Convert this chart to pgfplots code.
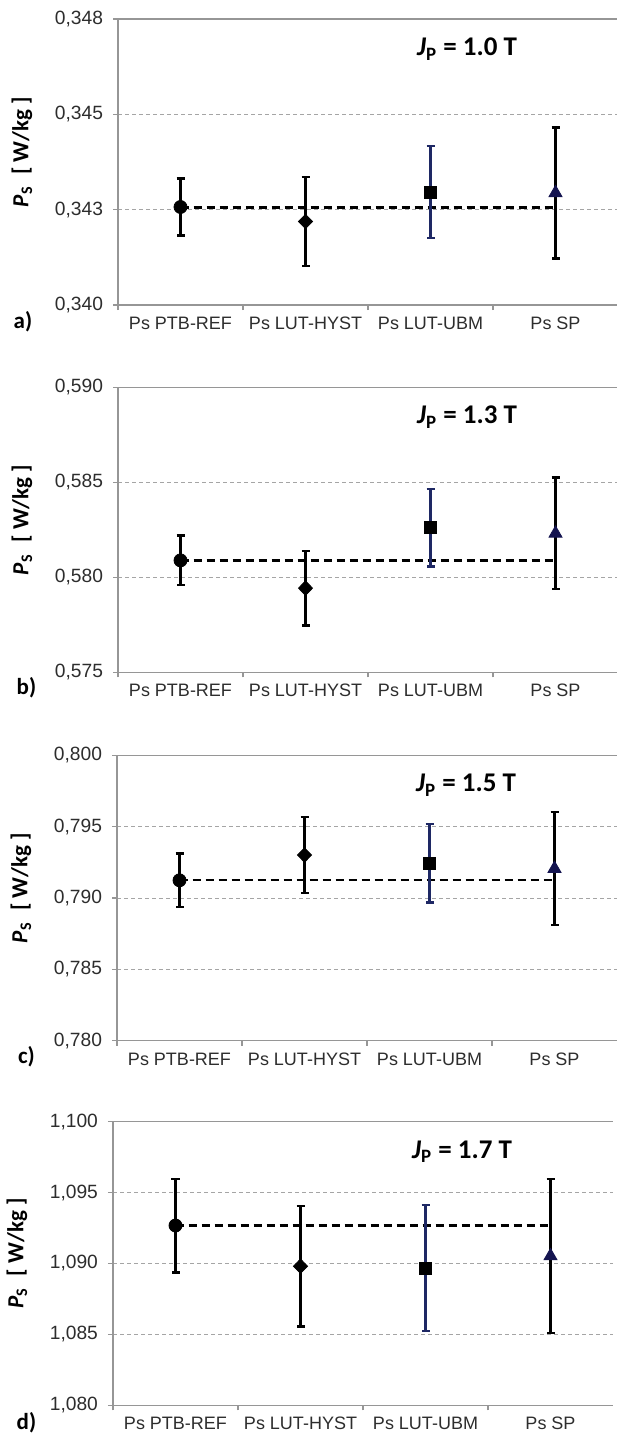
\documentclass[border=0pt]{standalone}
\usepackage{fontspec}
\setmainfont{Liberation Sans}
\newfontfamily\cali{Carlito}
\usepackage{pgfplots}
\pgfplotsset{compat=1.18}
\definecolor{gridc}{RGB}{165,165,165}
\definecolor{axisc}{RGB}{150,150,150}
\definecolor{navy}{RGB}{30,40,100}
\definecolor{navytri}{RGB}{20,20,80}
\definecolor{tickc}{RGB}{45,45,45}
\tikzset{
  ann/.style={font=\cali\bfseries\fontsize{13.5}{15}\selectfont},
  lett/.style={font=\cali\bfseries\fontsize{11.5}{13}\selectfont},
}
\pgfplotsset{
  panel/.style={
    scale only axis, width=250pt,
    xmin=-0.5, xmax=3.5,
    xtick={0,1,2,3},
    xticklabels={Ps PTB-REF, Ps LUT-HYST, Ps LUT-UBM, Ps SP},
    minor xtick={-0.5,0.5,1.5,2.5},
    major x tick style={draw=none},
    minor x tick style={axisc, line width=0.6pt},
    minor tick length=2.5pt,
    major tick length=2.5pt,
    tick align=outside,
    axis x line*=bottom, axis y line*=left,
    axis line style={axisc, line width=0.6pt},
    ytick style={axisc, line width=0.6pt},
    ymajorgrids, grid style={gridc, line width=0.5pt, dash pattern=on 2pt off 1.5pt},
    xticklabel style={font=\fontsize{9}{10}\selectfont, text=tickc},
    yticklabel style={font=\fontsize{9.6}{10}\selectfont, text=tickc},
    yticklabel shift=1.5pt,
    ylabel={\textit{P}\textsubscript{S}\hspace{0.5em}[ W/kg ]},
    ylabel style={at={(axis description cs:-0.192,0.535)}, anchor=center, font=\cali\bfseries\fontsize{11.5}{13}\selectfont},
    clip=false,
  },
  refline/.style={black, line width=1.2pt, dash pattern=on 4pt off 2.5pt},
  eb/.style={error bars/.cd, y dir=both, y explicit, error bar style={line width=1.2pt}, error mark options={rotate=90, mark size=2pt, line width=1.2pt}},
}
\begin{document}
\begin{tikzpicture}
\useasboundingbox (0pt,0pt) rectangle (308pt,-717pt);
% ---------------- a)
\begin{axis}[panel, at={(59pt,-152.5pt)}, anchor=south west, height=143pt,
  ymin=0.340, ymax=0.3475, ytick={0.340,0.3425,0.345,0.3475},
  yticklabels={{0,340},{0,343},{0,345},{0,348}}]
\addplot[refline] coordinates {(0,0.34256) (3,0.34256)};
\addplot[black, only marks, mark=*, mark size=3.25pt, eb] coordinates {(0,0.34257) +- (0,0.00075)};
\addplot[black, only marks, mark=diamond*, mark size=3.6pt, mark options={xscale=1.3}, eb] coordinates {(1,0.34219) +- (0,0.00117)};
\addplot[navy, only marks, mark=square*, mark size=3pt, mark options={fill=black, draw=black}, eb] coordinates {(2,0.34296) +- (0,0.00121)};
\addplot[black, only marks, mark=triangle*, mark size=3.75pt, mark options={fill=navytri, draw=navytri}, eb] coordinates {(3,0.34294) +- (0,0.00172)};
\draw[axisc, line width=0.6pt] (rel axis cs:0,1) -- (rel axis cs:1,1);
\node[ann] at (rel axis cs:0.698,0.895) {\textit{J}\textsubscript{P} = 1.0 T};
\end{axis}
% ---------------- b)
\begin{axis}[panel, at={(59pt,-336.15pt)}, anchor=south west, height=142.5pt,
  ymin=0.575, ymax=0.590, ytick={0.575,0.580,0.585,0.590},
  yticklabels={{0,575},{0,580},{0,585},{0,590}}]
\addplot[refline] coordinates {(0,0.58089) (3,0.58089)};
\addplot[black, only marks, mark=*, mark size=3.25pt, eb] coordinates {(0,0.58089) +- (0,0.0013)};
\addplot[black, only marks, mark=diamond*, mark size=3.6pt, mark options={xscale=1.3}, eb] coordinates {(1,0.57943) +- (0,0.00197)};
\addplot[navy, only marks, mark=square*, mark size=3pt, mark options={fill=black, draw=black}, eb] coordinates {(2,0.58261) +- (0,0.00205)};
\addplot[black, only marks, mark=triangle*, mark size=3.75pt, mark options={fill=navytri, draw=navytri}, eb] coordinates {(3,0.58231) +- (0,0.00294)};
\draw[axisc, line width=0.6pt] (rel axis cs:0,1) -- (rel axis cs:1,1);
\node[ann] at (rel axis cs:0.698,0.895) {\textit{J}\textsubscript{P} = 1.3 T};
\end{axis}
% ---------------- c)
\begin{axis}[panel, at={(58.5pt,-520.35pt)}, anchor=south west, height=142.7pt,
  ymin=0.780, ymax=0.800, ytick={0.780,0.785,0.790,0.795,0.800},
  yticklabels={{0,780},{0,785},{0,790},{0,795},{0,800}}]
\addplot[refline] coordinates {(0,0.79126) (3,0.79126)};
\addplot[black, only marks, mark=*, mark size=3.25pt, eb] coordinates {(0,0.79124) +- (0,0.00189)};
\addplot[black, only marks, mark=diamond*, mark size=3.6pt, mark options={xscale=1.3}, eb] coordinates {(1,0.79301) +- (0,0.00266)};
\addplot[navy, only marks, mark=square*, mark size=3pt, mark options={fill=black, draw=black}, eb] coordinates {(2,0.79244) +- (0,0.00275)};
\addplot[black, only marks, mark=triangle*, mark size=3.75pt, mark options={fill=navytri, draw=navytri}, eb] coordinates {(3,0.79206) +- (0,0.00395)};
\draw[axisc, line width=0.6pt] (rel axis cs:0,1) -- (rel axis cs:1,1);
\node[ann] at (rel axis cs:0.698,0.895) {\textit{J}\textsubscript{P} = 1.5 T};
\end{axis}
% ---------------- d)
\begin{axis}[panel, at={(56.5pt,-702.65pt)}, anchor=south west, height=141.8pt,
  ymin=1.080, ymax=1.100, ytick={1.080,1.085,1.090,1.095,1.100},
  yticklabels={{1,080},{1,085},{1,090},{1,095},{1,100}}]
\addplot[refline] coordinates {(0,1.09267) (3,1.09267)};
\addplot[black, only marks, mark=*, mark size=3.25pt, eb] coordinates {(0,1.09268) +- (0,0.0033)};
\addplot[black, only marks, mark=diamond*, mark size=3.6pt, mark options={xscale=1.3}, eb] coordinates {(1,1.08981) +- (0,0.00424)};
\addplot[navy, only marks, mark=square*, mark size=3pt, mark options={fill=black, draw=black}, eb] coordinates {(2,1.08968) +- (0,0.00444)};
\addplot[black, only marks, mark=triangle*, mark size=3.75pt, mark options={fill=navytri, draw=navytri}, eb] coordinates {(3,1.09053) +- (0,0.00545)};
\draw[axisc, line width=0.6pt] (rel axis cs:0,1) -- (rel axis cs:1,1);
\node[ann] at (rel axis cs:0.698,0.895) {\textit{J}\textsubscript{P} = 1.7 T};
\end{axis}
% panel letters
\node[lett] at (11.5pt,-161pt) {a)};
\node[lett] at (13.25pt,-344pt) {b)};
\node[lett] at (13.25pt,-528.5pt) {c)};
\node[lett] at (13.25pt,-711.5pt) {d)};
\end{tikzpicture}
\end{document}
